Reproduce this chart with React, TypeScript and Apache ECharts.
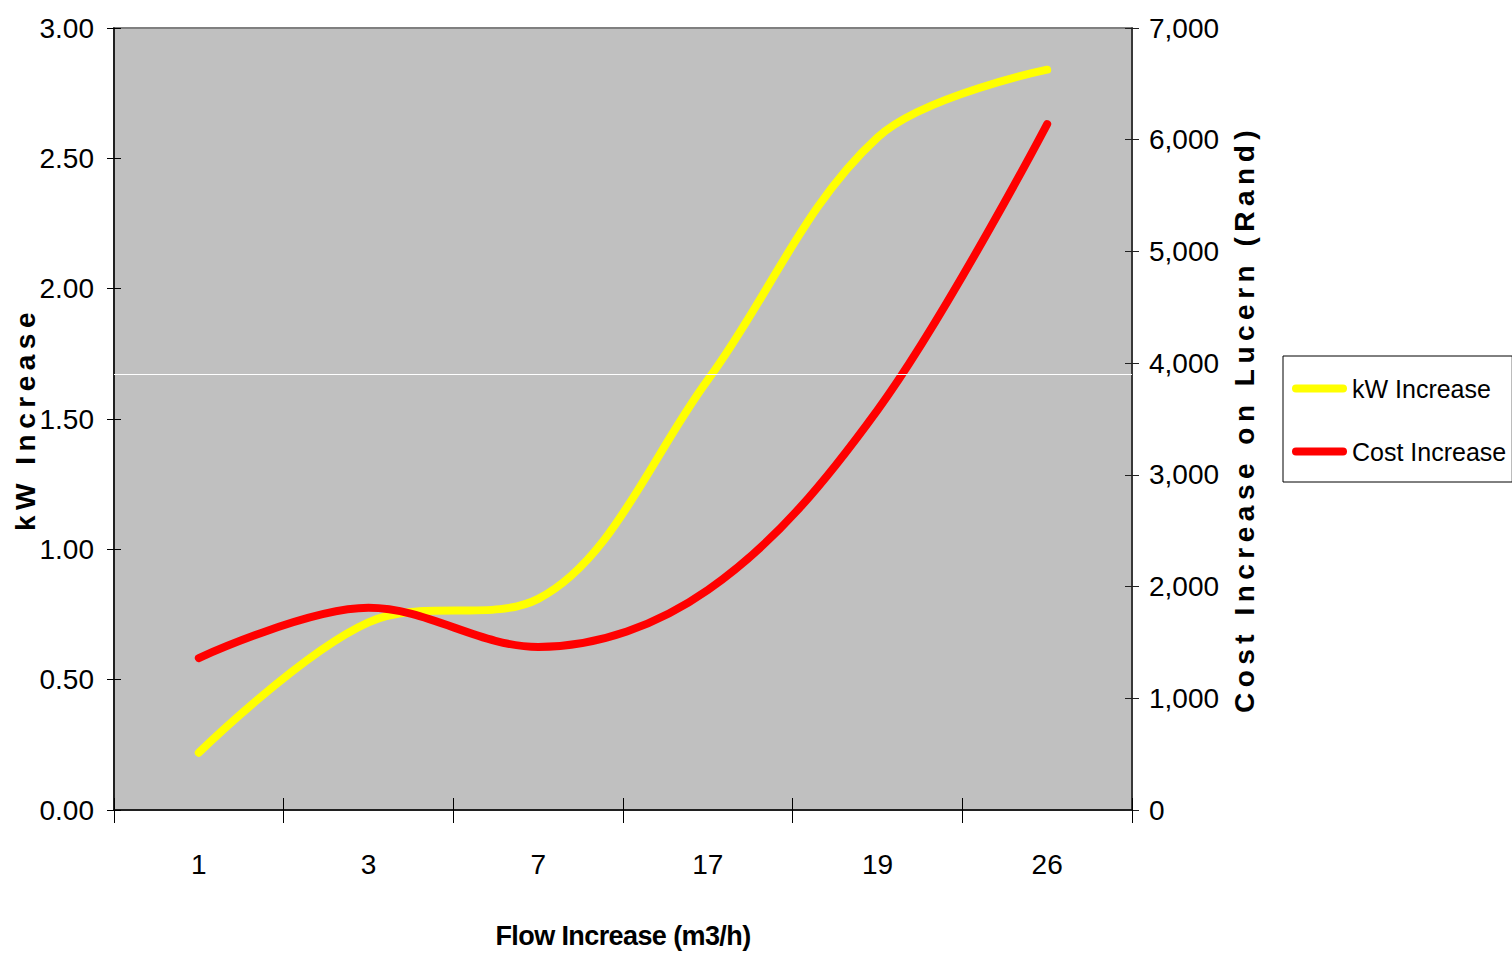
import React, { useEffect, useRef } from 'react';
import * as echarts from 'echarts';

// ---- data ----
const categories = ['1', '3', '7', '17', '19', '26'];
const kwIncrease = [0.22, 0.72, 0.81, 1.65, 2.58, 2.84];
const costIncrease = [1360, 1810, 1460, 1970, 3580, 6140];
const kwAxisRange = [0, 3, 0.5]; // min, max, interval
const costAxisRange = [0, 7000, 1000];
const whiteLineValue = [1.67];

const KW_TITLE = 'kW Increase';
const COST_TITLE = 'Cost Increase on Lucern (Rand)';
const X_TITLE = 'Flow Increase (m3/h)';
const SERIES_NAMES = ['kW Increase', 'Cost Increase'];

const FONT = "'Liberation Sans', Arial, sans-serif";

export default function App() {
  const ref = useRef<HTMLDivElement>(null);

  useEffect(() => {
    const el = ref.current!;
    const chart = echarts.init(el, null, { renderer: 'svg' });

    const labelStyle = { fontSize: 28, color: '#000', fontFamily: FONT };
    const titleStyle = { fontSize: 28, fontWeight: 'bold', color: '#000', fontFamily: FONT };

    const option: any = {
      animation: false,
      textStyle: { fontFamily: FONT, color: '#000' },
      grid: {
        left: 114,
        right: 380,
        top: 28,
        bottom: 151,
        show: true,
        backgroundColor: '#c0c0c0',
        borderColor: '#808080',
        borderWidth: 2,
        outerBoundsMode: 'none',
      },
      legend: {
        orient: 'vertical',
        left: 1283,
        top: 356,
        data: SERIES_NAMES,
        backgroundColor: '#fff',
        borderColor: '#000',
        borderWidth: 1,
        padding: [20, 6, 18, 9],
        itemWidth: 55,
        itemHeight: 8,
        itemGap: 38,
        icon: 'path://M4,0L51,0A4,4,0,0,1,51,8L4,8A4,4,0,0,1,4,0Z',
        textStyle: { fontSize: 25, color: '#000', fontFamily: FONT },
        selectedMode: false,
      },
      xAxis: [
        {
          type: 'category',
          data: categories,
          position: 'bottom',
          boundaryGap: true,
          axisLine: { show: true, lineStyle: { color: '#000', width: 1.5 } },
          axisTick: { show: true, length: 13, lineStyle: { color: '#000', width: 1 } },
          axisLabel: { ...labelStyle, margin: 40 },
          splitLine: { show: false },
          name: X_TITLE,
          nameLocation: 'middle',
          nameGap: 112,
          nameMoveOverlap: false,
          nameTextStyle: { ...titleStyle, fontSize: 27 },
        },
        {
          type: 'category',
          data: categories,
          position: 'bottom',
          boundaryGap: true,
          axisLine: { show: false },
          axisTick: { show: true, inside: true, length: 12, lineStyle: { color: '#000', width: 1 } },
          axisLabel: { show: false },
          splitLine: { show: false },
        },
      ],
      yAxis: [
        {
          type: 'value',
          position: 'left',
          min: kwAxisRange[0],
          max: kwAxisRange[1],
          interval: kwAxisRange[2],
          axisLine: { show: true, lineStyle: { color: '#000', width: 1.5 } },
          axisTick: { show: true, length: 7, lineStyle: { color: '#000', width: 1 } },
          axisLabel: { ...labelStyle, margin: 20, formatter: (v: number) => v.toFixed(2) },
          splitLine: { show: false },
          name: KW_TITLE,
          nameLocation: 'middle',
          nameGap: 75,
          nameMoveOverlap: false,
          nameTextStyle: titleStyle,
        },
        {
          type: 'value',
          position: 'right',
          min: costAxisRange[0],
          max: costAxisRange[1],
          interval: costAxisRange[2],
          axisLine: { show: true, lineStyle: { color: '#222', width: 1.5 } },
          axisTick: { show: true, length: 7, lineStyle: { color: '#222', width: 1 } },
          axisLabel: {
            ...labelStyle,
            margin: 17,
            formatter: (v: number) => v.toLocaleString('en-US'),
          },
          splitLine: { show: false },
          name: COST_TITLE,
          nameLocation: 'middle',
          nameGap: 98,
          nameMoveOverlap: false,
          nameTextStyle: titleStyle,
        },
        {
          type: 'value',
          position: 'left',
          min: kwAxisRange[0],
          max: kwAxisRange[1],
          interval: kwAxisRange[2],
          axisLine: { show: false },
          axisTick: { show: true, inside: true, length: 7, lineStyle: { color: '#000', width: 1 } },
          axisLabel: { show: false },
          splitLine: { show: false },
        },
        {
          type: 'value',
          position: 'right',
          min: costAxisRange[0],
          max: costAxisRange[1],
          interval: costAxisRange[2],
          axisLine: { show: false },
          axisTick: { show: true, inside: true, length: 7, lineStyle: { color: '#222', width: 1 } },
          axisLabel: { show: false },
          splitLine: { show: false },
        },
      ],
      series: [
        {
          type: 'line',
          data: [],
          yAxisIndex: 0,
          z: 1,
          silent: true,
          markLine: {
            silent: true,
            symbol: 'none',
            label: { show: false },
            lineStyle: { color: '#ffffff', width: 1, type: 'solid' },
            data: whiteLineValue.map((v) => ({ yAxis: v })),
          },
        },
        {
          name: SERIES_NAMES[0],
          type: 'line',
          data: kwIncrease,
          yAxisIndex: 0,
          smooth: 0.35,
          symbol: 'none',
          showSymbol: false,
          color: '#ffff00',
          itemStyle: { color: '#ffff00' },
          lineStyle: { color: '#ffff00', width: 8, cap: 'round', join: 'round' },
          z: 3,
        },
        {
          name: SERIES_NAMES[1],
          type: 'line',
          data: costIncrease,
          yAxisIndex: 1,
          smooth: 0.35,
          symbol: 'none',
          showSymbol: false,
          color: '#ff0000',
          itemStyle: { color: '#ff0000' },
          lineStyle: { color: '#ff0000', width: 8, cap: 'round', join: 'round' },
          z: 3,
        },
      ],
    };

    chart.setOption(option);

    const spaceTitles = () => {
      el.querySelectorAll('text').forEach((t) => {
        const s = t.textContent;
        const w = parseInt(getComputedStyle(t).fontWeight || '400', 10);
        if (w < 600) return;
        if (s === KW_TITLE || s === COST_TITLE) {
          t.setAttribute('letter-spacing', '5.5');
        } else if (s === X_TITLE) {
          t.setAttribute('letter-spacing', '-0.6');
        }
      });
    };
    spaceTitles();
    chart.on('finished', spaceTitles);

    return () => {
      chart.dispose();
    };
  }, []);

  return (
    <div
      ref={ref}
      style={{ position: 'fixed', left: 0, top: 0, width: 1512, height: 961, background: '#fff' }}
    />
  );
}
